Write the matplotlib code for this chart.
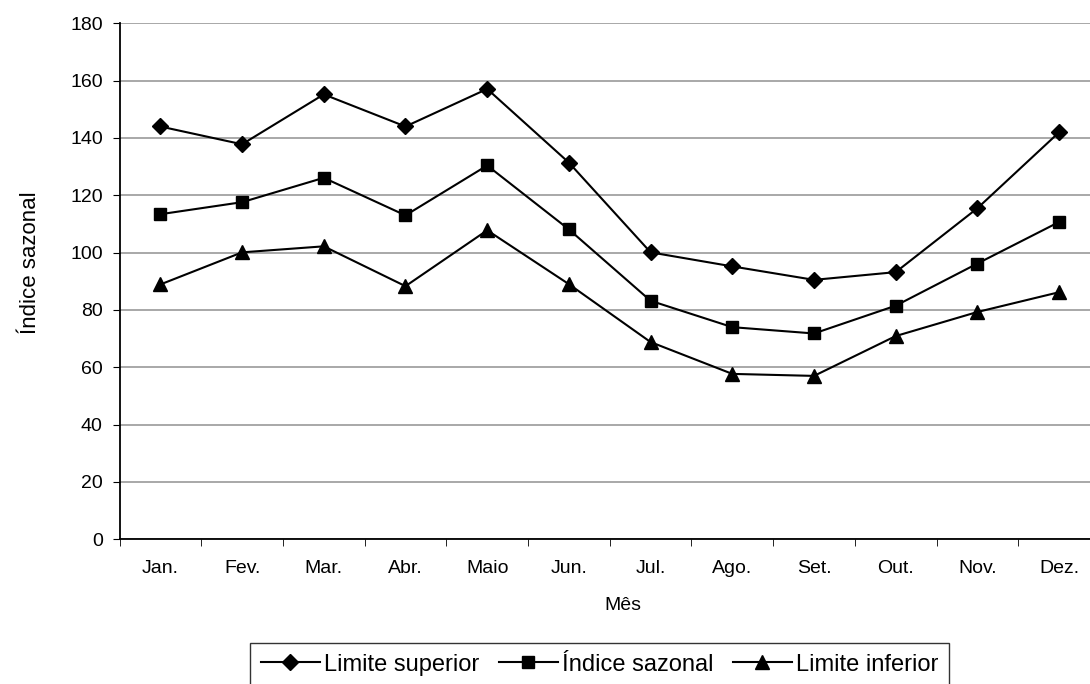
import matplotlib
matplotlib.use("Agg")
import matplotlib.pyplot as plt
import numpy as np

plt.rcParams['font.family'] = ['Liberation Sans', 'DejaVu Sans']

months = ["Jan.", "Fev.", "Mar.", "Abr.", "Maio", "Jun.", "Jul.", "Ago.", "Set.", "Out.", "Nov.", "Dez."]
limite_superior = [144.0, 137.8, 155.2, 144.0, 157.1, 131.4, 100.1, 95.2, 90.5, 93.2, 115.5, 142.0]
indice_sazonal = [113.4, 117.6, 126.1, 113.0, 130.4, 108.1, 83.2, 74.0, 71.8, 81.5, 96.2, 110.7]
limite_inferior = [88.9, 100.1, 102.2, 88.3, 107.8, 89.0, 68.8, 57.7, 57.0, 70.9, 79.3, 86.2]
yticks = [0, 20, 40, 60, 80, 100, 120, 140, 160, 180]

W, H = 1090, 684
fig = plt.figure(figsize=(W/100, H/100), dpi=100)
left, right, top, bottom = 119.5, 1100, 23.3, 539.3
ax = fig.add_axes([left/W, 1 - bottom/H, (right-left)/W, (bottom-top)/H])

x = np.arange(len(months))
ax.plot(x, limite_superior, color='black', lw=1.5, marker='D', ms=8.5, label='Limite superior', clip_on=False)
ax.plot(x, indice_sazonal, color='black', lw=1.5, marker='s', ms=8.5, label='Índice sazonal', clip_on=False)
ax.plot(x, limite_inferior, color='black', lw=1.5, marker='^', ms=10, label='Limite inferior', clip_on=False)

ax.set_xlim(-0.5, len(months) - 0.5)
ax.set_ylim(0, 180)
ax.set_yticks(yticks)
ax.yaxis.grid(True, color='#9a9a9a', lw=1.2)
ax.set_axisbelow(True)

ax.set_xticks(x)
ax.set_xticklabels(months, fontsize=14)
ax.tick_params(axis='x', length=0, pad=15)
ax.set_xticks(np.arange(-0.5, len(months)), minor=True)
ax.tick_params(axis='x', which='minor', length=5, direction='out', color='black')
ax.tick_params(axis='y', labelsize=14, length=5, direction='out', pad=7)

for s in ['top', 'right']:
    ax.spines[s].set_visible(False)
for s in ['left', 'bottom']:
    ax.spines[s].set_color('black')
    ax.spines[s].set_linewidth(1.3)

fig.text(623/W, 1 - 606/H, 'Mês', fontsize=14, ha='center', va='center')
fig.text(31/W, 1 - 263/H, 'Índice sazonal', fontsize=16, ha='center', va='center', rotation=90)

leg = fig.legend(loc='upper left', bbox_to_anchor=(250/W, 1 - 643/H), ncol=3, fontsize=17,
                 frameon=True, fancybox=False, edgecolor='black', handlelength=2.5,
                 columnspacing=0.8, handletextpad=0.2, borderpad=0.45, borderaxespad=0)
leg.get_frame().set_linewidth(1.0)

fig.savefig('out.png', dpi=100)
